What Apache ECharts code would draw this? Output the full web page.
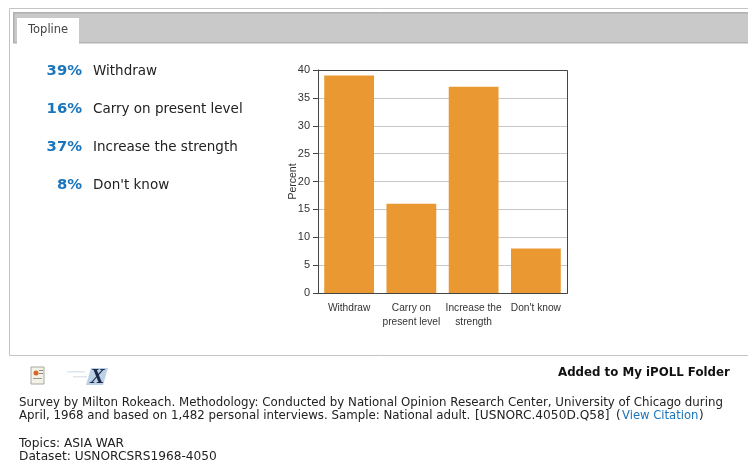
<!DOCTYPE html>
<html><head><meta charset="utf-8">
<style>html,body{margin:0;padding:0;background:#fff}#c{width:748px;height:461px}</style>
<script src="https://cdn.jsdelivr.net/npm/echarts@6/dist/echarts.min.js"></script>
</head><body><div id="c"></div>
<script>
const categories = ["Withdraw", "Carry on\npresent level", "Increase the\nstrength", "Don't know"];
const listLabels = ["Withdraw", "Carry on present level", "Increase the strength", "Don't know"];
const values = [39, 16, 37, 8];
const footerLine1 = "Survey by Milton Rokeach. Methodology: Conducted by National Opinion Research Center, University of Chicago during";
const footerLine2 = "April, 1968 and based on 1,482 personal interviews. Sample: National adult.";
const footerCode = "[USNORC.4050D.Q58]";
const footerLink = "View Citation";
const footerTopics = "Topics: ASIA WAR";
const footerDataset = "Dataset: USNORCSRS1968-4050";

const F = "'DejaVu Sans', Verdana, sans-serif";
const A = "'Liberation Sans',Arial,sans-serif";
const chart = echarts.init(document.getElementById('c'), null, {renderer:'canvas'});
const txt = (x,y,text,o={}) => ({type:'text',x,y,z:10,style:Object.assign({text,fill:'#222',font:'12px '+F,verticalAlign:'middle'},o)});
const rect = (x,y,w,h,fill,stroke,z=1) => ({type:'rect',z,shape:{x,y,width:w,height:h},style:{fill,stroke:stroke||null,lineWidth:stroke?1:0}});
const body = {font:'11.8px '+F,fill:'#222'};
const wide = {font:'12.2px '+F,fill:'#222'};
const g = [
  rect(9.5,8.5,745,347,'#fff','#c4c4c4'),
  rect(13,13,740,30,'#c9c9c9'),
  rect(13,12,740,1.5,'#b0b0b0',null,2),
  rect(13,42,740,1.5,'#b4b4b4',null,2),
  rect(13,13,1.5,30,'#b0b0b0',null,2),
  rect(17,18,62,26,'#fff',null,3),
  txt(28,30.5,'Topline',{fill:'#444',font:'11.5px '+F}),
  txt(558,373,'Added to My iPOLL Folder',{fill:'#111',font:'bold 11.8px '+F}),
  rect(31,367,13,17,'#f4f1e6','#a9a9a0',3),
  {type:'circle',z:4,shape:{cx:36,cy:373,r:2.5},style:{fill:'#d8642a'}},
  rect(39,370,4,1,'#888',null,4), rect(39,373,4,1,'#888',null,4),
  rect(33,378,9,1,'#999',null,4),
  {type:'polygon',z:3,shape:{points:[[91,368],[108,368],[103,385],[86,385]]},style:{fill:'#bcd0e6'}},
  rect(67,371,18,1.5,'#dfe5ec',null,3), rect(73,376,14,1.5,'#dfe5ec',null,3),
  txt(90,377,'X',{fill:'#1c2a4a',font:'italic bold 22px "Liberation Serif", serif'}),
  txt(19,402.5,footerLine1,body),
  txt(19,416,footerLine2,body),
  txt(475,416,footerCode,wide),
  txt(616,416,'(',body),
  txt(622,416,footerLink,{font:'11.6px '+F,fill:'#1a75bc'}),
  txt(699,416,')',body),
  txt(19,443.5,footerTopics,wide),
  txt(19,456.5,footerDataset,wide),
  ...values.map((v,i) => txt(82,71+38*i,v+'%',{font:'bold 14.8px '+F,fill:'#1a75bc',align:'right'})),
  ...listLabels.map((s,i) => txt(93,71+38*i,s,{font:'13.5px '+F,fill:'#222'})),
  {type:'rect',z:8,silent:true,shape:{x:318.5,y:70.5,width:249,height:223},style:{fill:'transparent',stroke:'#444',lineWidth:1}}
];
chart.setOption({
  animation:false,
  backgroundColor:'#fff',
  graphic:{elements:g},
  grid:{left:318,top:70,width:249,height:223,containLabel:false,show:false},
  xAxis:{type:'category',data:categories,z:7,
    axisLine:{lineStyle:{color:'#444',width:1}},
    axisTick:{alignWithLabel:true,length:5,lineStyle:{color:'#444'}},
    axisLabel:{color:'#333',fontFamily:A,fontSize:10.2,lineHeight:14,margin:8,interval:0}},
  yAxis:{type:'value',min:0,max:40,interval:5,name:'Percent',nameLocation:'middle',nameGap:19,nameMoveOverlap:false,z:5,
    nameTextStyle:{color:'#333',fontFamily:A,fontSize:10.5},
    axisLine:{show:true,lineStyle:{color:'#444'}},
    axisTick:{show:true,length:5,lineStyle:{color:'#444'}},
    axisLabel:{color:'#333',fontFamily:A,fontSize:11,margin:8,showMaxLabel:true},
    splitLine:{show:true,lineStyle:{color:'#c8c8c8',width:1}}},
  series:[{type:'bar',data:values,barCategoryGap:'20%',itemStyle:{color:'#e99832'},z:6}]
});
</script></body></html>
